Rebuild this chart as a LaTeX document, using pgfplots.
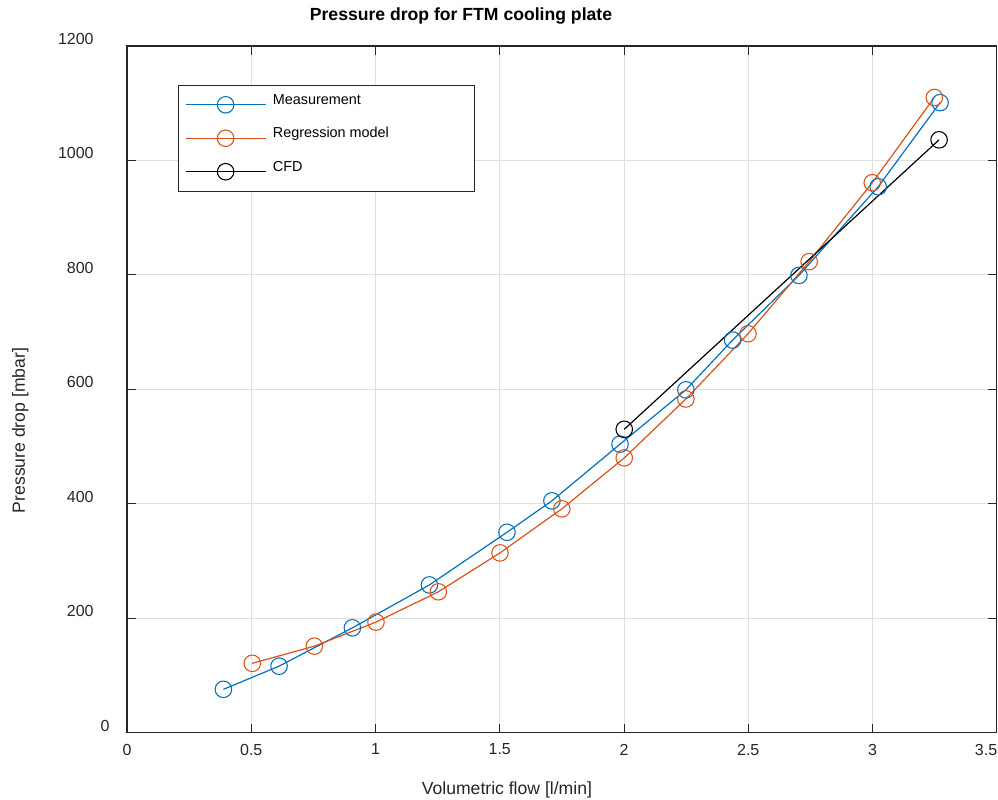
\documentclass[border=0pt]{standalone}
\usepackage{pgfplots}
\pgfplotsset{compat=1.18}
\usepackage{fontspec}
\setmainfont{Liberation Sans}
\definecolor{mblue}{rgb}{0,0.447,0.741}
\definecolor{morange}{rgb}{0.85,0.325,0.098}
\definecolor{axcol}{rgb}{0.15,0.15,0.15}
\definecolor{gridcol}{rgb}{0.875,0.875,0.875}
\begin{document}
\begin{tikzpicture}
\begin{axis}[
  at={(0pt,0pt)}, anchor=south west,
  scale only axis, width=652.3pt, height=514.9pt,
  xmin=0, xmax=3.5, ymin=0, ymax=1200,
  xtick={0,0.5,1,1.5,2,2.5,3,3.5},
  xticklabels={0,0.5,1,1.5,2,2.5,3,3.5\hspace*{16pt}},
  ytick={0,200,400,600,800,1000,1200},
  yticklabels={0\hspace*{-12pt},200,400,600,800,1000,1200},
  /pgf/number format/assume math mode=true,
  tick label style={font=\fontsize{12}{14}\selectfont, text=axcol},
  yticklabel style={anchor=east, xshift=-21.5pt, yshift=5.2pt},
  xticklabel style={yshift=-5pt},
  xtick pos=both, ytick pos=both, xticklabel pos=lower, yticklabel pos=left,
  tick align=inside, major tick length=6.5pt,
  every tick/.style={axcol, line width=0.6pt},
  axis line style={axcol, line width=0.8pt},
  grid=major, major grid style={gridcol, line width=0.6pt},
  title={\bfseries Pressure drop for FTM cooling plate},
  title style={font=\fontsize{13.2}{15}\selectfont, at={(axis description cs:0.384,1)}, anchor=center, yshift=16.5pt},
  xlabel={Volumetric flow [l/min]},
  xlabel style={font=\fontsize{13.2}{15}\selectfont, text=axcol, at={(axis description cs:0.4368,0)}, anchor=center, yshift=-42.75pt},
  ylabel={Pressure drop [mbar]},
  ylabel style={font=\fontsize{13.2}{15}\selectfont, text=axcol, at={(axis description cs:-0.1226,0.44)}, anchor=center},
  legend style={at={(axis description cs:0.0586,0.9432)}, anchor=north west, draw=axcol, line width=0.6pt,
    font=\fontsize{10.8}{13}\selectfont, inner xsep=5pt, inner ysep=8pt, row sep=12pt},
  legend cell align=left,
  legend image code/.code={\draw[mark repeat=2,mark phase=2,#1,line width=0.9pt,mark options={line width=0.8pt}] plot coordinates {(0pt,0pt) (30pt,0pt) (60pt,0pt)};},
  every axis plot/.append style={line width=0.9pt, mark=o, mark size=6.2pt, mark options={line width=0.8pt}},
]
\addplot[mblue] coordinates {
(0.388,75.5) (0.612,116) (0.907,183) (1.217,258) (1.529,350) (1.710,405)
(1.984,504) (2.249,599) (2.437,686) (2.704,799) (3.023,954) (3.272,1101)};
\addlegendentry{\raisebox{3.5pt}[7.6pt][2.2pt]{\makebox[147pt][l]{\hspace*{3pt}Measurement}}}
\addplot[morange] coordinates {
(0.504,121) (0.754,151) (1.002,193) (1.253,246) (1.501,314) (1.750,391)
(2.001,480) (2.249,583) (2.499,697) (2.745,823) (2.999,961) (3.249,1110)};
\addlegendentry{\raisebox{3.5pt}[7.6pt][2.2pt]{\makebox[147pt][l]{\hspace*{3pt}Regression model}}}
\addplot[black] coordinates {(2.001,530) (3.268,1036)};
\addlegendentry{\raisebox{3.5pt}[7.6pt][2.2pt]{\makebox[147pt][l]{\hspace*{3pt}CFD}}}
\end{axis}
\pgfresetboundingbox
\path[use as bounding box] (-95.25pt,-49.9pt) rectangle (653.25pt,549.4pt);
\end{tikzpicture}
\end{document}
